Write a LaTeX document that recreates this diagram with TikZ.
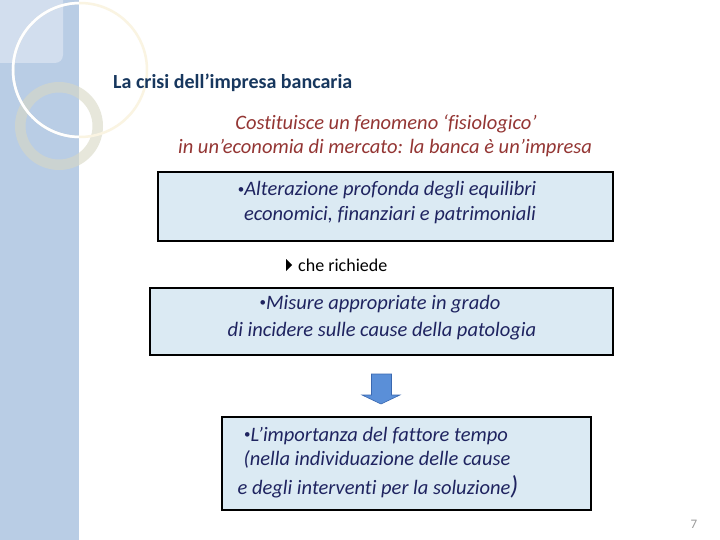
\documentclass[tikz,border=0pt]{standalone}
\usepackage{fontspec}
\setmainfont[Ligatures=NoCommon]{Carlito}
\definecolor{panel}{HTML}{B9CDE5}
\definecolor{panellight}{HTML}{D2DEEE}
\definecolor{cream}{HTML}{FAF4E2}
\definecolor{ringc}{HTML}{D8D8C4}
\definecolor{boxfill}{HTML}{DBEAF3}
\definecolor{navytext}{HTML}{1F2460}
\definecolor{redtext}{HTML}{943634}
\definecolor{titleblue}{HTML}{17375E}
\definecolor{arrowfill}{HTML}{5A8FD8}
\definecolor{arrowdraw}{HTML}{3A68B0}
\newcommand{\smallbul}{\raisebox{2.5pt}{\fontsize{13}{13}\selectfont\upshape•}}
\tikzset{
  boxstyle/.style={draw=black, line width=1.2pt, fill=boxfill},
  bodytext/.style={anchor=base, inner sep=0pt, text=navytext, font=\fontsize{20.5}{22}\selectfont\itshape},
  redline/.style={anchor=base, inner sep=0pt, text=redtext, font=\fontsize{20.5}{22}\selectfont\itshape},
}
\begin{document}
\begin{tikzpicture}[x=1pt,y=-1pt]
\useasboundingbox (0,0) rectangle (720,540);
\fill[white] (0,0) rectangle (720,540);
% left panel
\fill[panel] (0,0) rectangle (79,540);
\fill[panellight] (0,0) -- (63,0) -- (63,55) arc[start angle=0,end angle=90,radius=8] -- (0,63) -- cycle;
% ring
\fill[ringc, opacity=0.6, even odd rule] (59,126) circle[radius=44] (59,126) circle[radius=33.5];
% big circle
\draw[cream, line width=2.5pt] (80,70) circle[radius=67];
\begin{scope}
\clip (0,0) rectangle (79,540);
\draw[white, line width=2.5pt] (80,70) circle[radius=67];
\end{scope}
% title
\node[anchor=base west, inner sep=0pt, text=titleblue, font=\fontsize{20}{22}\selectfont\bfseries] (title) at (113,89) {La crisi dell’impresa bancaria};
% red subtitle
\node[redline] (sub1) at (386,130) {Costituisce un fenomeno ‘fisiologico’};
\node[redline] (sub2) at (385,154) {in un’economia di mercato: la banca è un’impresa};
% box 1
\node[boxstyle, minimum width=455pt, minimum height=69pt, inner sep=0pt] (box1) at (385.5,206.5) {};
\node[bodytext] (b1l1) at (387,196) {\smallbul Alterazione profonda degli equilibri};
\node[bodytext] (b1l2) at (390,221) {economici, finanziari e patrimoniali};
% che richiede
\fill[black] (286,259) -- (292,265) -- (286,271) -- cycle;
\node[anchor=base west, inner sep=0pt, font=\fontsize{18}{20}\selectfont] (che) at (298,271) {che richiede};
% box 2
\node[boxstyle, minimum width=463pt, minimum height=67pt, inner sep=0pt] (box2) at (381.5,321.5) {};
\node[bodytext] (b2l1) at (380,309) {\smallbul Misure appropriate in grado};
\node[bodytext] (b2l2) at (382,336) {di incidere sulle cause della patologia};
% arrow
\filldraw[fill=arrowfill, draw=arrowdraw, line width=0.6pt] (371.5,374) -- (391.5,374) -- (391.5,395) -- (400,395) -- (381,404) -- (362,395) -- (371.5,395) -- cycle;
% box 3
\node[boxstyle, minimum width=369pt, minimum height=93pt, inner sep=0pt] (box3) at (406.5,463.5) {};
\node[bodytext] (b3l1) at (376,441) {\smallbul L’importanza del fattore tempo};
\node[bodytext] (b3l2) at (377,465) {(nella individuazione delle cause};
\node[bodytext] (b3l3) at (378,494) {e degli interventi per la soluzione{\fontsize{26}{26}\selectfont)}};
% page number
\node[anchor=base, inner sep=0pt, text=black!40, font=\fontsize{13}{14}\selectfont] (pnum) at (694,528) {7};
\end{tikzpicture}
\end{document}
